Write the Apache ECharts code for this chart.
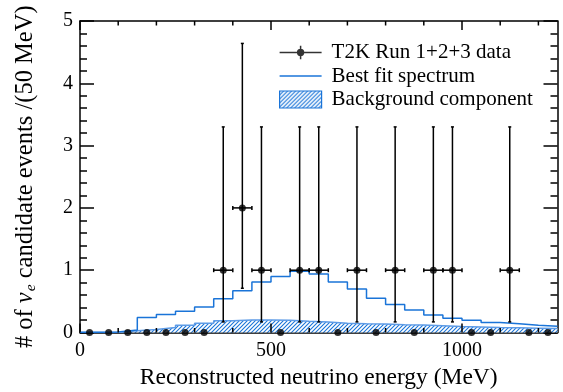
<!DOCTYPE html>
<html>
<head>
<meta charset="utf-8">
<script src="https://cdn.jsdelivr.net/npm/echarts@6/dist/echarts.min.js"></script>
<style>
  html, body { margin: 0; padding: 0; background: #fff; }
  #chart { width: 563px; height: 392px; }
</style>
</head>
<body>
<div id="chart"></div>
<script>
/* global echarts */
const FONT = 'Liberation Serif';
const BLUE = '#1a74d8';
const BIN_WIDTH = 50;

// 50 MeV bins, centres
const binCenters = [25, 75, 125, 175, 225, 275, 325, 375, 425, 475, 525, 575, 625,
    675, 725, 775, 825, 875, 925, 975, 1025, 1075, 1125, 1175, 1225];
// observed events per bin
const observed = [0, 0, 0, 0, 0, 0, 0, 1, 2, 1, 0, 1, 1, 0, 1, 0, 1, 0, 1, 1, 0, 0, 1, 0, 0];
// asymmetric (Poisson) errors
const errUp = [0, 0, 0, 0, 0, 0, 0, 2.30, 2.64, 2.30, 0, 2.30, 2.30, 0, 2.30, 0, 2.30, 0, 2.30, 2.30, 0, 0, 2.30, 0, 0];
const errDown = [0, 0, 0, 0, 0, 0, 0, 0.83, 1.29, 0.83, 0, 0.83, 0.83, 0, 0.83, 0, 0.83, 0, 0.83, 0.83, 0, 0, 0.83, 0, 0];
// best fit spectrum
const bestFit = [0.005, 0.01, 0.04, 0.24, 0.29, 0.34, 0.41, 0.54, 0.67, 0.81, 0.90, 0.985, 0.94,
    0.81, 0.70, 0.55, 0.45, 0.36, 0.28, 0.23, 0.195, 0.16, 0.14, 0.115, 0.10];
// background component
const background = [0, 0.005, 0.03, 0.05, 0.08, 0.115, 0.15, 0.19, 0.20, 0.20, 0.195, 0.18, 0.17,
    0.15, 0.14, 0.135, 0.125, 0.12, 0.11, 0.095, 0.09, 0.08, 0.075, 0.07, 0.065];
// energy axis ticks (labels only on the major ones)
const xMajorTicks = [0, 500, 1000];
const xMinorTicks = [100, 200, 300, 400, 600, 700, 800, 900, 1100, 1200];

const legendNames = ['T2K Run 1+2+3 data', 'Best fit spectrum', 'Background component'];

function hatch(color) {
    const c = document.createElement('canvas');
    c.width = 4; c.height = 4;
    const ctx = c.getContext('2d');
    ctx.fillStyle = '#fff';
    ctx.fillRect(0, 0, 4, 4);
    ctx.strokeStyle = color;
    ctx.lineWidth = 1.1;
    ctx.beginPath();
    ctx.moveTo(0, 4); ctx.lineTo(4, 0);
    ctx.moveTo(-1, 1); ctx.lineTo(1, -1);
    ctx.moveTo(3, 5); ctx.lineTo(5, 3);
    ctx.stroke();
    return c;
}
const hatchFill = { image: hatch(BLUE), repeat: 'repeat' };

// step histogram: left edge of every bin plus the last right edge
const toSteps = (vals) => {
    const pts = binCenters.map((c, i) => [c - BIN_WIDTH / 2, vals[i]]);
    pts.push([binCenters[binCenters.length - 1] + BIN_WIDTH / 2, vals[vals.length - 1]]);
    return pts;
};

const chart = echarts.init(document.getElementById('chart'));

const line = () => ({ color: '#000', width: 1.5 });

const xAxisFor = (position) => ({
    type: 'value', position, min: 0, max: 1250, interval: 100,
    axisLine: { show: true, onZero: false, lineStyle: line() },
    axisTick: { show: false },
    axisLabel: { show: false },
    splitLine: { show: false }
});

const xMain = xAxisFor('bottom');
xMain.name = 'Reconstructed neutrino energy (MeV)';
xMain.nameLocation = 'middle';
xMain.nameGap = 32;
xMain.nameTextStyle = { fontFamily: FONT, fontSize: 23.5, color: '#000' };
xMain.axisLabel = {
    show: true, fontFamily: FONT, fontSize: 20, color: '#000', margin: 8,
    formatter: (v) => (xMajorTicks.includes(v) ? String(v) : '')
};

const yAxisFor = (position) => ({
    type: 'value', position, min: 0, max: 5, interval: 1,
    axisLine: { show: true, onZero: false, lineStyle: line() },
    axisTick: { show: true, inside: true, length: 14, lineStyle: line() },
    minorTick: { show: true, splitNumber: 5, length: 7, lineStyle: line() },
    axisLabel: { show: false },
    splitLine: { show: false },
    minorSplitLine: { show: false }
});

const yMain = yAxisFor('left');
yMain.name = '# of {nu|ν}{sub|e} candidate events /(50 MeV)';
yMain.nameLocation = 'middle';
yMain.nameRotate = 90;
yMain.nameGap = 41;
yMain.nameTextStyle = {
    fontFamily: FONT, fontSize: 24.5, color: '#000',
    rich: {
        nu: { fontFamily: FONT, fontSize: 24.5, fontStyle: 'italic', color: '#000' },
        sub: { fontFamily: FONT, fontSize: 15.5, fontStyle: 'italic', color: '#000', verticalAlign: 'bottom', padding: [11, 0, 0, 1] }
    }
};
yMain.axisLabel = { show: true, fontFamily: FONT, fontSize: 20, color: '#000', margin: 7 };

const option = {
    animation: false,
    backgroundColor: '#fff',
    textStyle: { fontFamily: FONT, color: '#000' },
    grid: { left: 80, right: 5.5, top: 21, bottom: 59.5, outerBoundsMode: 'none' },
    legend: {
        orient: 'vertical',
        left: 279,
        top: 42,
        padding: 0,
        itemWidth: 42,
        itemHeight: 17,
        itemGap: 2.5,
        selectedMode: false,
        textStyle: { fontFamily: FONT, fontSize: 21, color: '#000', lineHeight: 21, padding: [0, 0, 0, 5] },
        data: [
            {
                name: legendNames[0],
                icon: 'path://M0,6.05h42v1.5h-42z M20.25,0h1.5v13.6h-1.5z M17.3,6.8a3.7,3.7 0 1,1 7.4,0a3.7,3.7 0 1,1 -7.4,0z',
                itemStyle: { color: '#000' }
            },
            {
                name: legendNames[1],
                icon: 'path://M0,0h42v1.5h-42z',
                itemStyle: { color: BLUE }
            },
            {
                name: legendNames[2],
                icon: 'rect',
                itemStyle: { color: hatchFill, borderColor: BLUE, borderWidth: 1.2 }
            }
        ]
    },
    xAxis: [xMain, xAxisFor('top')],
    yAxis: [yMain, yAxisFor('right')],
    series: [
        {
            name: legendNames[2],
            type: 'line',
            step: 'end',
            symbol: 'none',
            data: toSteps(background),
            lineStyle: { color: '#5d9be6', width: 1.5 },
            itemStyle: { color: BLUE },
            areaStyle: { color: hatchFill, opacity: 1 },
            z: 1
        },
        {
            name: legendNames[1],
            type: 'line',
            step: 'end',
            symbol: 'none',
            data: toSteps(bestFit),
            lineStyle: { color: BLUE, width: 1.5 },
            itemStyle: { color: BLUE },
            z: 2
        },
        {
            type: 'custom',
            data: binCenters.map((c, i) => [c, observed[i], errDown[i], errUp[i]]),
            renderItem: (params, api) => {
                const x = api.value(0), y = api.value(1);
                if (y === 0) return null;
                const lo = api.coord([x, y - api.value(2)]);
                const hi = api.coord([x, y + api.value(3)]);
                const l = api.coord([x - BIN_WIDTH / 2, y]);
                const r = api.coord([x + BIN_WIDTH / 2, y]);
                const st = { stroke: '#000', lineWidth: 1.5 };
                const seg = (x1, y1, x2, y2) => ({ type: 'line', shape: { x1, y1, x2, y2 }, style: st });
                return {
                    type: 'group',
                    children: [
                        seg(lo[0], lo[1], hi[0], hi[1]),
                        seg(hi[0] - 1.5, hi[1], hi[0] + 1.5, hi[1]),
                        seg(lo[0] - 1.5, lo[1], lo[0] + 1.5, lo[1]),
                        seg(l[0], l[1], r[0], r[1]),
                        seg(l[0], l[1] - 2, l[0], l[1] + 2),
                        seg(r[0], r[1] - 2, r[0], r[1] + 2)
                    ]
                };
            },
            z: 3
        },
        {
            name: legendNames[0],
            type: 'scatter',
            symbol: 'circle',
            symbolSize: 7,
            data: binCenters.map((c, i) => [c, observed[i]]),
            itemStyle: { color: '#000' },
            clip: false,
            z: 4
        },
        {
            // inside ticks on the energy axis, bottom and top (ROOT style)
            type: 'custom',
            silent: true,
            zlevel: 1,
            z: 10,
            data: xMajorTicks.map((v) => [v, 1]).concat(xMinorTicks.map((v) => [v, 0])),
            renderItem: (params, api) => {
                const v = api.value(0);
                const len = api.value(1) ? 9 : 4.5;
                const b = api.coord([v, 0]);
                const t = api.coord([v, 5]);
                const st = { stroke: '#000', lineWidth: 1.5, fill: null };
                return {
                    type: 'group',
                    children: [
                        { type: 'line', shape: { x1: b[0], y1: b[1], x2: b[0], y2: b[1] - len }, style: st },
                        { type: 'line', shape: { x1: t[0], y1: t[1], x2: t[0], y2: t[1] + len }, style: st }
                    ]
                };
            }
        }
    ]
};

chart.setOption(option);
</script>
</body>
</html>
